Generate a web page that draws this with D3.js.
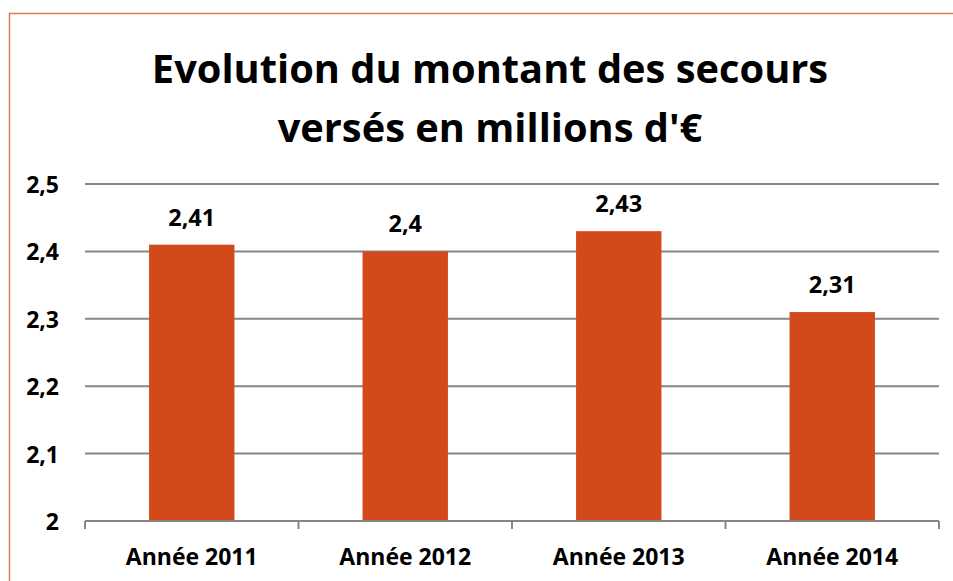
<!DOCTYPE html>
<html lang="fr">
<head>
<meta charset="utf-8">
<title>Evolution du montant des secours</title>
<style>
  body { margin: 0; background: #fff; }
  text { font-family: "Open Sans", Lato, sans-serif; font-weight: bold; fill: #000; }
</style>
</head>
<body>
<svg width="953" height="581"></svg>
<script src="https://d3js.org/d3.v7.min.js"></script>
<script>
  var categories = ["Année 2011", "Année 2012", "Année 2013", "Année 2014"];
  var values = [2.41, 2.4, 2.43, 2.31];
  var yTicks = [2, 2.1, 2.2, 2.3, 2.4, 2.5];
  var titleLines = ["Evolution du montant des secours", "versés en millions d'€"];

  var svg = d3.select("svg"),
      margin = {top: 184, right: 14, bottom: 60, left: 85},
      width = 939 - margin.left,
      height = 521 - margin.top;

  var fmt = function(v) { return String(v).replace(".", ","); };

  // frame (orange border on top and left)
  svg.append("path")
    .attr("d", "M9.5,581 V13.5 H953")
    .attr("fill", "none")
    .attr("stroke", "#e07b57")
    .attr("stroke-width", 1.5);

  var x = d3.scaleBand().domain(categories).range([0, width]).paddingInner(0.6).paddingOuter(0.3);
  var xEdge = d3.scaleBand().domain(categories).range([0, width]);
  var y = d3.scaleLinear().domain([2, 2.5]).range([height, 0]);

  var g = svg.append("g")
    .attr("transform", "translate(" + margin.left + "," + margin.top + ")");

  // gridlines
  g.selectAll(".grid")
    .data(yTicks.slice(1))
    .enter().append("line")
    .attr("x1", 0).attr("x2", width)
    .attr("y1", function(d) { return y(d); })
    .attr("y2", function(d) { return y(d); })
    .attr("stroke", "#868686")
    .attr("stroke-width", 2);

  // bars
  g.selectAll(".bar")
    .data(values)
    .enter().append("rect")
    .attr("x", function(d, i) { return x(categories[i]); })
    .attr("width", x.bandwidth())
    .attr("y", function(d) { return y(d); })
    .attr("height", function(d) { return height - y(d); })
    .attr("fill", "#d24a19");

  // value labels
  g.selectAll(".val")
    .data(values)
    .enter().append("text")
    .attr("x", function(d, i) { return x(categories[i]) + x.bandwidth() / 2; })
    .attr("y", function(d) { return y(d) - 19; })
    .attr("text-anchor", "middle")
    .style("font-size", "23.5px")
    .text(fmt);

  // x axis
  var xa = g.append("g").attr("transform", "translate(0," + height + ")");
  xa.append("line")
    .attr("x1", 0).attr("x2", width)
    .attr("stroke", "#868686").attr("stroke-width", 2);
  xa.selectAll(".tick")
    .data(d3.range(categories.length + 1))
    .enter().append("line")
    .attr("x1", function(i) { return i * xEdge.step(); })
    .attr("x2", function(i) { return i * xEdge.step(); })
    .attr("y1", 0).attr("y2", 8)
    .attr("stroke", "#868686").attr("stroke-width", 2);
  xa.selectAll(".lab")
    .data(categories)
    .enter().append("text")
    .attr("x", function(d) { return x(d) + x.bandwidth() / 2; })
    .attr("y", 44)
    .attr("text-anchor", "middle")
    .style("font-size", "23px")
    .text(function(d) { return d; });

  // y axis labels
  g.selectAll(".ylab")
    .data(yTicks)
    .enter().append("text")
    .attr("x", -26)
    .attr("y", function(d) { return y(d) + 9; })
    .attr("text-anchor", "end")
    .style("font-size", "23px")
    .text(fmt);

  // title
  svg.selectAll(".title")
    .data(titleLines)
    .enter().append("text")
    .attr("x", 490)
    .attr("y", function(d, i) { return 83 + i * 59; })
    .attr("text-anchor", "middle")
    .style("font-size", "39.8px")
    .text(function(d) { return d; });
</script>
</body>
</html>
